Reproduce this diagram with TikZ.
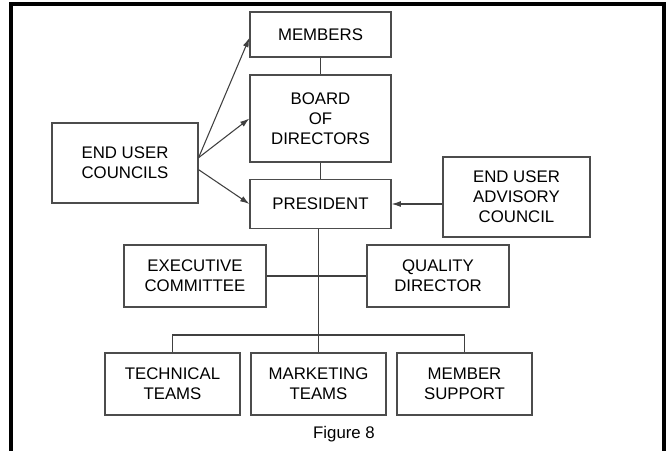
\documentclass[tikz,border=0pt]{standalone}
\usepackage{fontspec}
\setmainfont{Liberation Sans}
\usetikzlibrary{arrows.meta}

\tikzset{
    orgbox/.style={draw=black!70, line width=0.9pt, align=center,
        inner sep=0pt, font=\fontsize{12.6}{15}\selectfont},
    link/.style={draw=black!75, line width=0.8pt},
    feed/.style={link, -{Latex[length=7pt,width=4.5pt]}}
}

\begin{document}
\begin{tikzpicture}[x=0.75pt, y=-0.75pt]
    % Fix the page to the size of the figure
    \useasboundingbox (0,0) rectangle (667,450);

    % Outer frame, open at the bottom
    \draw[line width=2.3pt] (11,455) -- (11,4) -- (664,4) -- (664,455);

    % Top of the chart
    \node[orgbox, minimum width=105.75pt, minimum height=33.75pt] (members) at (320.5,34.5) {MEMBERS};
    \node[orgbox, minimum width=105.75pt, minimum height=65.25pt] (board) at (320.5,118.5) {BOARD\\OF\\DIRECTORS};
    \node[orgbox, minimum width=105.75pt, minimum height=36.75pt] (president) at (320.5,204) {PRESIDENT};

    % Side boxes
    \node[orgbox, minimum width=109.5pt, minimum height=60pt] (councils) at (125,163) {END USER\\COUNCILS};
    \node[orgbox, minimum width=110.25pt, minimum height=60pt] (advisory) at (516.5,197) {END USER\\ADVISORY\\COUNCIL};

    % Staff level
    \node[orgbox, minimum width=106.5pt, minimum height=46.5pt] (executive) at (195,276) {EXECUTIVE\\COMMITTEE};
    \node[orgbox, minimum width=106.5pt, minimum height=46.5pt] (quality) at (438,276) {QUALITY\\DIRECTOR};

    % Teams
    \node[orgbox, minimum width=101.25pt, minimum height=46.5pt] (technical) at (172.5,384) {TECHNICAL\\TEAMS};
    \node[orgbox, minimum width=101.25pt, minimum height=46.5pt] (marketing) at (318.5,384) {MARKETING\\TEAMS};
    \node[orgbox, minimum width=101.25pt, minimum height=46.5pt] (support) at (464.5,384) {MEMBER\\SUPPORT};

    % Caption
    \node[font=\fontsize{12.6}{15}\selectfont] (caption) at (344,434) {Figure 8};

    % Vertical line of command
    \draw[link] (members) -- (board);
    \draw[link] (board) -- (president);
    \draw[link] (president.south -| marketing.north) -- (marketing.north);
    \draw[link] (executive.east) -- (quality.west);

    % Bus over the teams
    \coordinate (bus) at (0,335);
    \draw[link] (technical.north) -- (technical.north |- bus) -- (support.north |- bus) -- (support.north);

    % Arrows into the chart
    \draw[feed] ([yshift=4pt]councils.east) -- ([yshift=-2.5pt]members.west);
    \draw[feed] ([yshift=4pt]councils.east) -- (board.west);
    \draw[feed] ([yshift=-5pt]councils.east) -- (president.west);
    \draw[feed] (advisory.west |- president.east) -- (president.east);

  \end{tikzpicture}
\end{document}
